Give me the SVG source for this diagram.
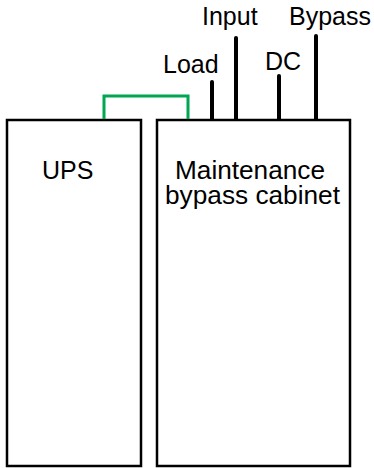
<svg xmlns="http://www.w3.org/2000/svg" width="374" height="468" viewBox="0 0 374 468">
<style>
.box{fill:#fff;stroke:#000;stroke-width:2.5}
.lbl{font-family:"Liberation Sans",Arial,sans-serif;font-size:25px;fill:#000}
.feed{stroke:#000;stroke-width:4;stroke-linecap:round;fill:none}
.link{stroke:#00a650;stroke-width:3;fill:none}
</style>
<rect width="374" height="468" fill="#fff"/>
<g id="ups">
<rect class="box" x="7" y="120" width="134" height="346"/>
<text class="lbl" x="42" y="179">UPS</text>
</g>
<g id="cabinet">
<rect class="box" x="157" y="120" width="193" height="346"/>
<text class="lbl" x="175" y="178.5" textLength="150" lengthAdjust="spacingAndGlyphs">Maintenance</text>
<text class="lbl" x="165" y="203.5" textLength="175" lengthAdjust="spacingAndGlyphs">bypass cabinet</text>
</g>
<g id="connectors">
<polyline class="link" points="104,119 104,96 188,96 188,119"/>
<line class="feed" x1="212" y1="82" x2="212" y2="119"/>
<line class="feed" x1="236" y1="38" x2="236" y2="119"/>
<line class="feed" x1="279" y1="76" x2="279" y2="119"/>
<line class="feed" x1="316" y1="36" x2="316" y2="119"/>
</g>
<g id="labels">
<text class="lbl" x="202" y="25">Input</text>
<text class="lbl" x="289" y="25">Bypass</text>
<text class="lbl" x="163" y="73">Load</text>
<text class="lbl" x="265" y="70">DC</text>
</g>
</svg>
